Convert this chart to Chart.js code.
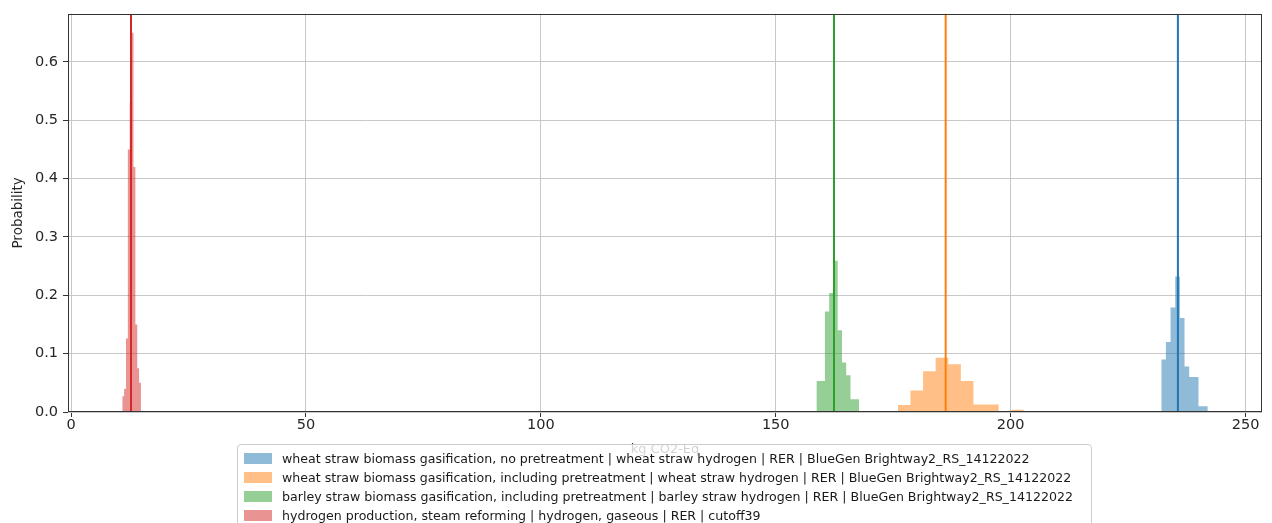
<!DOCTYPE html>
<html>
<head>
<meta charset="utf-8">
<script src="https://cdn.jsdelivr.net/npm/chart.js@4.4.0/dist/chart.umd.min.js"></script>
<style>
html,body{margin:0;padding:0;background:#fff;overflow:hidden;}
#wrap{position:relative;width:1272px;height:523px;overflow:hidden;}
#c{position:absolute;left:0;top:0;}
#legend{position:absolute;left:237px;top:444px;width:855px;height:100px;box-sizing:border-box;border:1px solid #cccccc;border-radius:4px;background:rgba(255,255,255,0.8);font-family:'DejaVu Sans',sans-serif;font-size:12.6px;color:#1a1a1a;padding-top:4px;}
.row{position:relative;height:19px;line-height:19px;white-space:nowrap;}
.sw{position:absolute;left:6px;top:4px;width:28px;height:11px;}
.lbl{position:absolute;left:44px;top:0;}
</style>
</head>
<body>
<div id="wrap">
<canvas id="c" width="1272" height="523"></canvas>
<div id="legend"></div>
</div>
<script>
// ---- data ----
const seriesLabels = [
  "wheat straw biomass gasification, no pretreatment | wheat straw hydrogen | RER | BlueGen Brightway2_RS_14122022",
  "wheat straw biomass gasification, including pretreatment | wheat straw hydrogen | RER | BlueGen Brightway2_RS_14122022",
  "barley straw biomass gasification, including pretreatment | barley straw hydrogen | RER | BlueGen Brightway2_RS_14122022",
  "hydrogen production, steam reforming | hydrogen, gaseous | RER | cutoff39"
];
const seriesColors = ["#1f77b4", "#ff7f0e", "#2ca02c", "#d62728"];
const seriesFills = ["rgba(31,119,180,0.5)", "rgba(255,127,14,0.5)", "rgba(44,160,44,0.5)", "rgba(214,39,40,0.5)"];

const blueEdges  = [232.06, 233.05, 234.04, 235.03, 236.02, 237.01, 238.00, 238.99, 239.98, 240.97, 241.96];
const blueValues = [0.09, 0.12, 0.179, 0.232, 0.161, 0.078, 0.06, 0.06, 0.01, 0.01];

const orangeEdges  = [176.00, 178.68, 181.36, 184.04, 186.72, 189.40, 192.08, 194.76, 197.44, 200.12, 202.80];
const orangeValues = [0.012, 0.037, 0.07, 0.093, 0.082, 0.053, 0.013, 0.013, 0, 0.004];

const greenEdges  = [158.66, 159.57, 160.47, 161.38, 162.28, 163.19, 164.10, 165.00, 165.91, 166.81, 167.72];
const greenValues = [0.053, 0.053, 0.172, 0.204, 0.259, 0.14, 0.085, 0.063, 0.022, 0.022];

const redEdges  = [10.91, 11.31, 11.71, 12.10, 12.50, 12.90, 13.30, 13.70, 14.10, 14.49, 14.89];
const redValues = [0.027, 0.04, 0.126, 0.45, 0.53, 0.65, 0.42, 0.15, 0.075, 0.05];

const meanValues = [235.6, 186.17, 162.4, 12.77];

const xTicks = [0, 50, 100, 150, 200, 250];
const yTicks = [0.0, 0.1, 0.2, 0.3, 0.4, 0.5, 0.6];
const xMin = -0.64, xMax = 253.5;
const yMin = 0, yMax = 0.6825;
const xTitle = "kg CO2-Eq";
const yTitle = "Probability";

// ---- build datasets ----
const histEdges = [blueEdges, orangeEdges, greenEdges, redEdges];
const histValues = [blueValues, orangeValues, greenValues, redValues];

function histPoints(edges, values) {
  const pts = [{x: edges[0], y: 0}];
  values.forEach((v, i) => pts.push({x: edges[i], y: v}));
  pts.push({x: edges[edges.length - 1], y: 0});
  return pts;
}

const datasets = [];
histEdges.forEach((e, i) => {
  datasets.push({
    label: seriesLabels[i],
    data: histPoints(e, histValues[i]),
    stepped: true,
    fill: 'origin',
    backgroundColor: seriesFills[i],
    borderColor: 'rgba(0,0,0,0)',
    borderWidth: 0,
    pointRadius: 0,
    order: 2
  });
});
meanValues.forEach((m, i) => {
  datasets.push({
    label: 'mean ' + i,
    data: [{x: m, y: yMin}, {x: m, y: yMax}],
    fill: false,
    borderColor: seriesColors[i],
    borderWidth: 2,
    pointRadius: 0,
    order: 1
  });
});

const framePlugin = {
  id: 'frame',
  afterDatasetsDraw(chart) {
    const a = chart.chartArea, ctx = chart.ctx;
    ctx.save();
    ctx.strokeStyle = '#333333';
    ctx.lineWidth = 1;
    ctx.strokeRect(Math.round(a.left) + 0.5, Math.round(a.top) + 0.5, Math.round(a.right - a.left) - 1, Math.round(a.bottom - a.top) - 1);
    ctx.restore();
  }
};

Chart.defaults.font.family = "'DejaVu Sans', sans-serif";
Chart.defaults.font.size = 13;
Chart.defaults.color = '#262626';

new Chart(document.getElementById('c'), {
  type: 'line',
  data: {datasets},
  options: {
    responsive: false,
    animation: false,
    devicePixelRatio: 1,
    layout: {padding: {top: 12, right: 10, left: 0, bottom: 66}},
    plugins: {legend: {display: false}, tooltip: {enabled: false}},
    scales: {
      x: {
        type: 'linear',
        min: xMin, max: xMax,
        afterBuildTicks: s => { s.ticks = xTicks.map(v => ({value: v})); },
        afterFit: s => { s.height = 45; },
        ticks: {padding: 0, maxRotation: 0, autoSkip: false, font: {size: 14.5}, callback: v => String(v)},
        grid: {color: '#c8c8c8', lineWidth: 1, tickLength: 5, tickColor: '#333333'},
        border: {display: false},
        title: {display: true, text: xTitle, padding: {top: 0, bottom: 0}, font: {size: 13}}
      },
      y: {
        type: 'linear',
        min: yMin, max: yMax,
        afterBuildTicks: s => { s.ticks = yTicks.map(v => ({value: v})); },
        afterFit: s => { s.width = 68; },
        ticks: {padding: 5, font: {size: 14.5}, callback: v => Number(v).toFixed(1)},
        grid: {color: '#c8c8c8', lineWidth: 1, tickLength: 5, tickColor: '#333333'},
        border: {display: false},
        title: {display: true, text: yTitle, padding: {top: 10, bottom: 0}, font: {size: 13.5}}
      }
    }
  },
  plugins: [framePlugin]
});

// ---- legend overlay ----
const leg = document.getElementById('legend');
seriesLabels.forEach((t, i) => {
  const r = document.createElement('div'); r.className = 'row';
  const sw = document.createElement('span'); sw.className = 'sw'; sw.style.background = seriesFills[i];
  const lb = document.createElement('span'); lb.className = 'lbl'; lb.textContent = t;
  r.appendChild(sw); r.appendChild(lb); leg.appendChild(r);
});
</script>
</body>
</html>
